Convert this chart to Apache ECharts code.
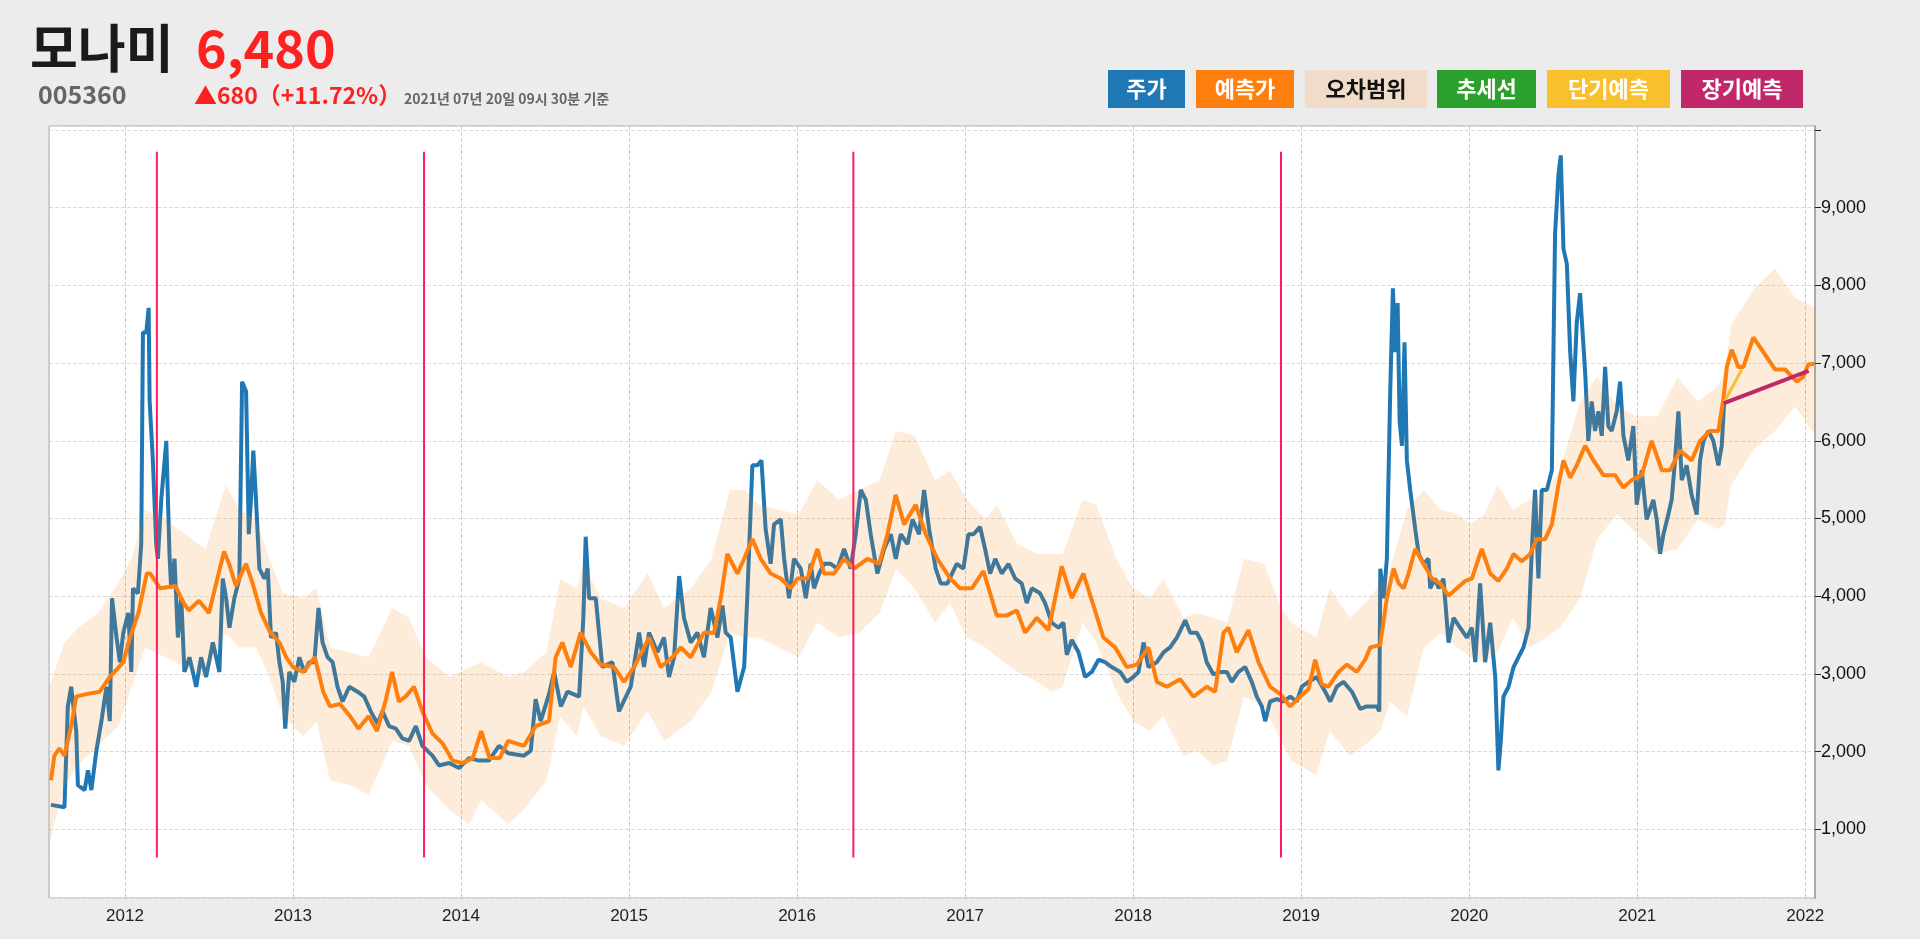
<!DOCTYPE html>
<html><head><meta charset="utf-8">
<script src="https://cdn.jsdelivr.net/npm/echarts@6/dist/echarts.min.js"></script>
<style>html,body{margin:0;padding:0;background:#ececec;}#c{width:1920px;height:939px;}</style>
</head><body><div id="c"></div>
<script>
// ---- data (decimal year, value) ----
const price = [
[2011.56,1316],[2011.64,1285],[2011.66,2580],[2011.68,2835],[2011.71,2266],[2011.72,1570],[2011.76,1506],[2011.78,1760],[2011.80,1506],[2011.83,2013],[2011.86,2393],[2011.89,2835],[2011.91,2393],[2011.923,3975],[2011.95,3469],[2011.97,3152],[2011.99,3532],[2012.02,3785],[2012.038,3026],[2012.048,4102],[2012.077,4038],[2012.097,4671],[2012.107,7393],[2012.127,7393],[2012.141,7710],[2012.147,6507],[2012.166,5747],[2012.186,4671],[2012.196,4482],[2012.216,5241],[2012.246,6000],[2012.265,4545],[2012.275,4102],[2012.295,4482],[2012.315,3469],[2012.335,3975],[2012.354,3026],[2012.384,3215],[2012.424,2835],[2012.453,3215],[2012.483,2962],[2012.523,3405],[2012.543,3215],[2012.562,3026],[2012.582,4228],[2012.602,3975],[2012.622,3595],[2012.651,3975],[2012.681,4228],[2012.697,6760],[2012.721,6634],[2012.737,4798],[2012.75,5241],[2012.764,5874],[2012.78,5241],[2012.80,4355],[2012.83,4228],[2012.85,4355],[2012.869,3469],[2012.899,3532],[2012.919,3152],[2012.939,2899],[2012.954,2298],[2012.978,3026],[2013.008,2899],[2013.038,3215],[2013.067,3026],[2013.097,3152],[2013.127,3152],[2013.152,3849],[2013.176,3405],[2013.206,3215],[2013.236,3152],[2013.265,2835],[2013.295,2646],[2013.335,2835],[2013.384,2772],[2013.424,2709],[2013.463,2519],[2013.503,2361],[2013.533,2519],[2013.572,2329],[2013.612,2298],[2013.651,2171],[2013.691,2139],[2013.731,2329],[2013.77,2076],[2013.83,1949],[2013.869,1823],[2013.929,1855],[2013.988,1791],[2014.048,1918],[2014.107,1886],[2014.166,1886],[2014.226,2076],[2014.281,1981],
[2014.375,1949],[2014.415,2013],[2014.444,2677],[2014.474,2393],[2014.524,2741],[2014.554,3026],[2014.594,2583],[2014.633,2772],[2014.703,2709],[2014.728,3722],[2014.742,4766],[2014.762,3975],[2014.802,3975],[2014.841,3089],[2014.901,3152],[2014.94,2519],[2015.01,2836],[2015.06,3532],[2015.089,3089],[2015.119,3532],[2015.169,3279],[2015.208,3469],[2015.238,2962],[2015.268,3215],[2015.298,4260],[2015.327,3722],[2015.367,3405],[2015.407,3532],[2015.446,3215],[2015.486,3849],[2015.526,3469],[2015.556,3880],[2015.575,3532],[2015.605,3469],[2015.645,2772],[2015.685,3089],[2015.704,4006],[2015.734,5684],[2015.764,5684],[2015.788,5748],[2015.813,4861],[2015.843,4418],[2015.863,4925],[2015.903,4988],[2015.923,4482],[2015.952,3975],[2015.982,4482],[2016.022,4355],[2016.052,3975],[2016.081,4418],[2016.101,4102],[2016.131,4292],[2016.161,4418],[2016.20,4418],[2016.24,4355],[2016.28,4608],[2016.319,4355],[2016.349,4798],[2016.379,5367],[2016.409,5241],[2016.438,4798],[2016.478,4292],[2016.518,4608],[2016.558,4798],[2016.587,4482],[2016.617,4798],[2016.657,4671],[2016.687,4988],[2016.726,4798],[2016.756,5367],[2016.786,4861],[2016.825,4355],[2016.855,4165],[2016.895,4165],
[2016.95,4418],[2016.99,4355],[2017.02,4798],[2017.05,4798],[2017.089,4893],[2017.119,4608],[2017.149,4292],[2017.179,4482],[2017.218,4292],[2017.258,4418],[2017.298,4228],[2017.337,4165],[2017.367,3912],[2017.397,4102],[2017.446,4038],[2017.476,3912],[2017.516,3659],[2017.556,3595],[2017.585,3659],[2017.605,3247],[2017.635,3437],[2017.675,3279],[2017.714,2962],[2017.754,3026],[2017.794,3184],[2017.833,3152],[2017.873,3089],[2017.923,3026],[2017.962,2899],[2018.002,2962],[2018.032,3026],[2018.062,3405],[2018.091,3089],[2018.141,3152],[2018.181,3279],[2018.22,3342],[2018.26,3469],[2018.31,3690],[2018.339,3532],[2018.379,3532],[2018.409,3405],[2018.438,3152],[2018.478,2994],[2018.518,3026],[2018.558,3026],[2018.587,2899],[2018.627,3026],[2018.667,3089],[2018.706,2899],[2018.736,2709],[2018.766,2583],[2018.786,2393],[2018.815,2646],[2018.855,2677],[2018.895,2646],[2018.935,2709],[2018.974,2646],[2019.004,2836],[2019.044,2899],[2019.093,2962],[2019.143,2772],[2019.173,2646],[2019.212,2836],[2019.252,2899],[2019.302,2772],[2019.351,2551],[2019.391,2583],[2019.45,2583],[2019.465,2519],
[2019.471,4355],[2019.491,3975],[2019.51,4482],[2019.53,6634],[2019.546,7963],[2019.56,7140],[2019.574,7773],[2019.586,6254],[2019.60,5937],[2019.615,7267],[2019.629,5748],[2019.649,5368],[2019.679,4861],[2019.699,4545],[2019.728,4418],[2019.758,4482],[2019.768,4102],[2019.798,4228],[2019.818,4102],[2019.847,4228],[2019.877,3405],[2019.907,3722],[2019.946,3595],[2019.986,3469],[2020.016,3595],[2020.036,3152],[2020.065,4165],[2020.095,3152],[2020.125,3659],[2020.155,2962],[2020.174,1760],[2020.188,2139],[2020.204,2709],[2020.234,2836],[2020.264,3089],[2020.293,3215],[2020.323,3342],[2020.353,3595],[2020.373,4608],[2020.392,5368],[2020.412,4228],[2020.432,5368],[2020.462,5368],[2020.492,5621],[2020.511,8659],[2020.531,9419],[2020.545,9672],[2020.561,8469],[2020.581,8279],[2020.601,7140],[2020.62,6507],[2020.64,7520],[2020.66,7900],[2020.69,6887],[2020.709,6000],[2020.729,6507],[2020.749,6127],[2020.769,6380],[2020.789,6064],[2020.809,6950],[2020.828,6190],[2020.848,6127],[2020.878,6380],[2020.898,6760],[2020.918,6064],[2020.947,5748],[2020.977,6190],[2020.997,5177],[2021.027,5621],[2021.056,4988],[2021.096,5241],[2021.116,4988],[2021.136,4545],[2021.156,4798],[2021.185,5051],[2021.205,5241],[2021.225,5748],[2021.245,6380],[2021.265,5494],[2021.294,5684],[2021.324,5304],[2021.354,5051],[2021.374,5748],[2021.394,6000],[2021.424,6127],[2021.453,6000],[2021.483,5684],[2021.503,5937],[2021.517,6480]
];
const forecast = [
[2011.56,1633],[2011.58,1950],[2011.61,2044],[2011.64,1950],[2011.68,2329],[2011.71,2709],[2011.77,2741],[2011.85,2772],[2011.91,2962],[2011.95,3057],[2011.99,3152],[2012.03,3469],[2012.08,3785],[2012.13,4292],[2012.15,4292],[2012.21,4102],[2012.30,4133],[2012.35,3912],[2012.38,3817],[2012.44,3943],[2012.50,3785],[2012.55,4228],[2012.59,4577],[2012.62,4418],[2012.66,4133],[2012.72,4418],[2012.76,4165],[2012.81,3785],[2012.865,3532],[2012.92,3405],[2012.96,3215],[2013.00,3089],[2013.06,3026],[2013.13,3215],[2013.18,2772],[2013.22,2583],[2013.28,2614],[2013.34,2456],[2013.39,2298],[2013.45,2456],[2013.50,2266],[2013.55,2646],[2013.59,3026],[2013.63,2646],[2013.67,2709],[2013.72,2836],[2013.77,2519],[2013.83,2234],[2013.89,2108],[2013.95,1886],[2014.01,1855],[2014.07,1918],[2014.12,2266],[2014.17,1918],[2014.23,1918],[2014.28,2139],
[2014.375,2076],[2014.444,2329],[2014.524,2393],[2014.563,3215],[2014.603,3405],[2014.653,3089],[2014.712,3532],[2014.772,3279],[2014.831,3121],[2014.911,3089],[2014.97,2899],[2015.03,3089],[2015.119,3469],[2015.188,3089],[2015.258,3215],[2015.308,3342],[2015.367,3215],[2015.446,3532],[2015.506,3532],[2015.546,3975],[2015.585,4545],[2015.615,4418],[2015.645,4292],[2015.685,4482],[2015.734,4735],[2015.784,4482],[2015.843,4292],[2015.903,4228],[2015.962,4102],[2016.002,4228],[2016.062,4228],[2016.121,4608],[2016.161,4292],[2016.22,4292],[2016.28,4482],[2016.339,4355],[2016.419,4482],[2016.488,4418],[2016.538,4798],[2016.587,5304],[2016.637,4925],[2016.706,5177],[2016.766,4798],[2016.835,4482],[2016.911,4228],
[2016.97,4102],[2017.04,4102],[2017.109,4324],[2017.149,4038],[2017.188,3754],[2017.248,3754],[2017.308,3817],[2017.357,3532],[2017.427,3722],[2017.496,3564],[2017.536,3975],[2017.575,4386],[2017.635,3975],[2017.704,4292],[2017.764,3880],[2017.823,3469],[2017.893,3342],[2017.962,3089],[2018.022,3121],[2018.091,3342],[2018.141,2899],[2018.20,2836],[2018.28,2931],[2018.359,2709],[2018.438,2836],[2018.488,2772],[2018.538,3532],[2018.567,3595],[2018.617,3279],[2018.686,3564],[2018.746,3152],[2018.815,2836],[2018.875,2741],[2018.935,2583],[2018.994,2709],[2019.044,2804],[2019.083,3184],[2019.123,2867],[2019.163,2836],[2019.222,3026],[2019.272,3121],[2019.331,3026],[2019.381,3184],[2019.411,3342],[2019.47,3374],
[2019.51,3975],[2019.55,4355],[2019.58,4165],[2019.61,4102],[2019.639,4292],[2019.679,4608],[2019.728,4418],[2019.778,4228],[2019.828,4165],[2019.877,4006],[2019.927,4102],[2019.976,4197],[2020.016,4228],[2020.075,4608],[2020.125,4292],[2020.174,4197],[2020.224,4355],[2020.264,4545],[2020.313,4450],[2020.363,4545],[2020.402,4735],[2020.452,4735],[2020.492,4925],[2020.531,5431],[2020.561,5748],[2020.601,5526],[2020.64,5684],[2020.69,5937],[2020.739,5748],[2020.799,5558],[2020.868,5558],[2020.918,5399],[2020.967,5494],[2021.027,5558],[2021.086,6000],[2021.146,5621],[2021.195,5621],[2021.255,5874],[2021.324,5748],[2021.374,6000],[2021.433,6127],[2021.483,6127],[2021.513,6539],[2021.533,6950],[2021.562,7172],[2021.602,6950],[2021.632,6950],[2021.691,7330],[2021.751,7140],[2021.82,6918],[2021.88,6918],[2021.949,6760],[2021.988,6823],[2022.018,6982],[2022.055,6990]
];
const bandYears = [2011.55,2011.64,2011.72,2011.84,2011.96,2012.04,2012.12,2012.24,2012.36,2012.48,2012.60,2012.68,2012.78,2012.86,2012.94,2013.06,2013.14,2013.22,2013.34,2013.45,2013.59,2013.69,2013.79,2013.93,2014.05,2014.12,2014.28,2014.375,2014.51,2014.59,2014.69,2014.73,2014.83,2014.97,2015.11,2015.21,2015.37,2015.49,2015.60,2015.69,2015.77,2015.89,2016.01,2016.12,2016.25,2016.37,2016.49,2016.59,2016.70,2016.82,2016.91,2017.01,2017.12,2017.19,2017.31,2017.43,2017.51,2017.58,2017.70,2017.78,2017.90,2018.00,2018.10,2018.18,2018.30,2018.38,2018.48,2018.56,2018.66,2018.78,2018.88,2018.94,2019.09,2019.17,2019.29,2019.41,2019.47,2019.53,2019.63,2019.73,2019.83,2019.93,2020.01,2020.09,2020.17,2020.26,2020.36,2020.46,2020.54,2020.66,2020.76,2020.88,2021.00,2021.12,2021.24,2021.36,2021.48,2021.52,2021.56,2021.70,2021.82,2021.94,2022.06];
const bandUpper = [2835,3405,3595,3785,4165,4482,5115,4988,4798,4608,5431,5115,4988,4482,4038,3975,4102,3342,3279,3215,3849,3722,3215,2962,3089,3152,2962,3026,3279,4228,4102,4418,3975,3849,4292,3849,4102,4482,5368,5368,5177,5115,5051,5494,5241,5368,5494,6127,6064,5494,5621,5241,4988,5177,4671,4545,4545,4545,5241,5177,4482,4102,3975,4228,3722,3785,3722,3659,4482,4418,3849,3659,3469,4102,3722,3975,4165,4355,5115,5368,5115,5051,4925,5051,5431,5115,5241,5368,5621,6507,6823,6443,6317,6317,6823,6507,6697,6887,7500,7963,8216,7836,7710,7836];
const bandLower = [810,1570,1823,2076,2329,2836,3342,3215,3089,2962,3532,3342,3342,2962,2456,2202,2393,1633,1570,1443,2139,2076,1570,1253,1063,1380,1063,1253,1633,2456,2202,2583,2202,2076,2519,2139,2393,2772,3532,3469,3469,3342,3215,3659,3469,3532,3785,4355,4102,3659,3912,3469,3342,3215,3026,2899,2772,2836,3659,3405,2772,2393,2266,2456,1949,2013,1823,1886,2709,2583,2139,1886,1696,2266,1949,2139,2266,2646,2456,3342,3532,3342,3215,3152,3279,3722,3342,3469,3595,3975,4735,5051,4798,4545,4608,4988,4861,4925,5431,5900,6127,6443,6064,5874,6064];
const shortTerm = [[2021.513,6480],[2021.622,6918]];
const longTerm = [[2021.513,6480],[2022.02,6900]];
const eventYears = [2012.19,2013.78,2016.335,2018.88];
const eventRange = [640,9720];
const legendItems = [['주가','#1f77b4','#fff'],['예측가','#ff7f0e','#fff'],['오차범위','#f0dcc8','#111'],['추세선','#2ca02c','#fff'],['단기예측','#f9c02e','#fff'],['장기예측','#c0286a','#fff']];
</script>
<script>
const n = Math.min(bandYears.length, bandUpper.length, bandLower.length);
const bandData = [];
for (let i=0;i<n;i++) bandData.push([bandYears[i], bandUpper[i], bandLower[i]]);

const series = [
 {type:'line',name:'주가',data:price,showSymbol:false,lineStyle:{color:'#1f77b4',width:4},z:2},
 {type:'custom',name:'오차범위',data:bandData,z:3,silent:true,
  renderItem:(params,api)=>{
    if (params.dataIndex!==0) return null;
    const up=[],lo=[];
    bandData.forEach(d=>{up.push(api.coord([d[0],d[1]]));lo.push(api.coord([d[0],d[2]]));});
    return {type:'polygon',shape:{points:up.concat(lo.reverse())},style:{fill:'rgba(250,126,16,0.15)'},
      clipPath:{type:'rect',shape:{x:params.coordSys.x,y:params.coordSys.y,width:params.coordSys.width,height:params.coordSys.height}}};
  },encode:{x:0,y:[1,2]}},
 {type:'line',name:'예측가',data:forecast,showSymbol:false,lineStyle:{color:'#ff7f0e',width:4},z:4},
 {type:'line',name:'단기예측',data:shortTerm,showSymbol:false,lineStyle:{color:'#f9c02e',width:3},z:5},
 {type:'line',name:'장기예측',data:longTerm,showSymbol:false,lineStyle:{color:'#c0286a',width:4},z:6}
];
eventYears.forEach(y=>series.push({type:'line',data:[[y,eventRange[0]],[y,eventRange[1]]],showSymbol:false,lineStyle:{color:'#ff1a5e',width:2},z:7,silent:true}));

const graphic = [
 {type:'text',left:30,top:22,style:{text:'모나미',font:'bold 52px "Noto Sans CJK KR"',fill:'#1a1a1a'}},
 {type:'text',left:196,top:22,style:{text:'6,480',font:'bold 52px "Noto Sans CJK KR"',fill:'#ff2020'}},
 {type:'text',left:38,top:82,style:{text:'005360',font:'bold 25px "Noto Sans CJK KR"',fill:'#666'}},
 {type:'text',left:194,top:84,style:{text:'▲680（+11.72%）',font:'bold 23px "Noto Sans CJK KR"',fill:'#ff2020'}},
 {type:'text',left:404,top:92,style:{text:'2021년 07년 20일 09시 30분 기준',font:'bold 14px "Noto Sans CJK KR"',fill:'#666'}}
];
const lx = [1108,1196,1305,1437,1547,1681], lw=[77,98,122,99,123,122];
legendItems.forEach((it,i)=>{
 graphic.push({type:'rect',shape:{x:lx[i],y:70,width:lw[i],height:38},style:{fill:it[1]}});
 graphic.push({type:'text',x:lx[i]+lw[i]/2,y:89,style:{text:it[0],font:'bold 22px "Noto Sans CJK KR"',fill:it[2],align:'center',verticalAlign:'middle'}});
});

const chart = echarts.init(document.getElementById('c'));
chart.setOption({
 backgroundColor:'#ececec', animation:false, graphic,
 grid:{left:49,right:105,top:126,bottom:41,show:true,backgroundColor:'#fff',borderColor:'#aaa',borderWidth:1},
 xAxis:{type:'value',min:2011.548,max:2022.058,minInterval:1,maxInterval:1,
   axisLine:{show:false},axisTick:{show:false},
   axisLabel:{showMinLabel:false,showMaxLabel:false,color:'#222',fontSize:17,fontFamily:'Liberation Sans',formatter:v=>String(v),margin:10},
   splitLine:{show:true,lineStyle:{color:'#ccc',type:'dashed'}}},
 yAxis:{type:'value',position:'right',min:118,max:10050,minInterval:1000,maxInterval:1000,
   axisLine:{show:true,lineStyle:{color:'#aaa',width:2}},axisTick:{show:true,length:6,lineStyle:{color:'#222'}},
   axisLabel:{showMinLabel:false,showMaxLabel:false,color:'#111',fontSize:18,fontFamily:'Liberation Sans',formatter:v=>(v>=10000?'':v.toLocaleString('en-US')),margin:6},
   splitLine:{show:true,lineStyle:{color:'#ddd',type:'dashed'}}},
 series
});
</script></body></html>
